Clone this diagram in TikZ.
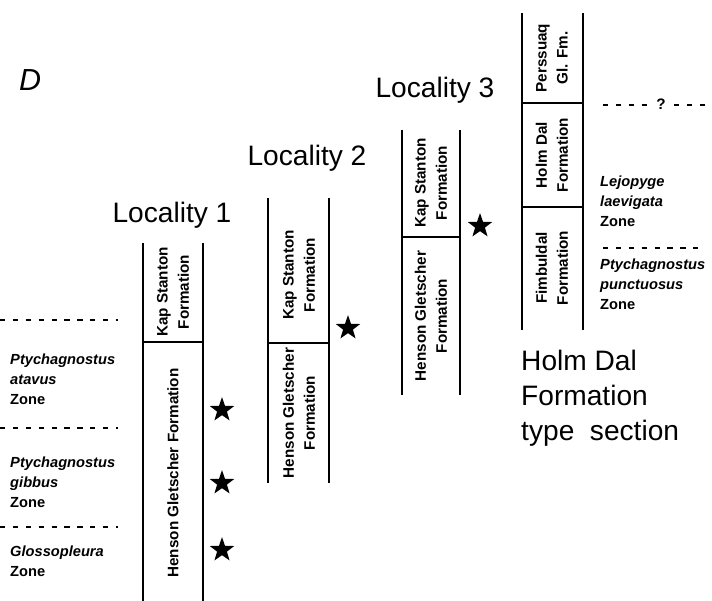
\documentclass[tikz,border=0pt]{standalone}
\usepackage{fontspec}
\setmainfont{Liberation Sans}
\usetikzlibrary{shapes.geometric,positioning}

\tikzset{
    unit/.style={rotate=90, align=center, inner sep=0pt, font=\fontsize{13}{18}\selectfont\bfseries},
    zone/.style={anchor=west, align=left, inner sep=0pt, font=\fontsize{12.5}{17}\selectfont\bfseries},
    title/.style={inner sep=0pt, font=\fontsize{24}{30}\selectfont},
    fossil/.style={star, star points=5, star point ratio=2.5, fill=black, minimum size=22pt, inner sep=0pt},
    col/.style={line width=1.5pt},
    bound/.style={line width=1.3pt, dash pattern=on 4.5pt off 6.5pt}
}

\begin{document}
\begin{tikzpicture}[x=0.03cm, y=-0.03cm]
    \useasboundingbox (0,0) rectangle (712,601);

    \node[inner sep=0pt, font=\fontsize{26}{30}\selectfont\itshape] (panel) at (30,80) {D};

    % Locality 1
    \node[title, anchor=base] (loc1) at (172,223) {Locality 1};
    \draw[col] (143,243) -- (143,601) (203,243) -- (203,601) (143,342) -- (203,342);
    \node[unit] (ks1) at (173,292) {Kap Stanton\\Formation};
    \node[unit] (hg1) at (173,473) {Henson Gletscher Formation};
    \foreach \y in {410,483,550}
        \node[fossil] (st\y) at (222,\y) {};

    % zones at left
    \draw[bound] (0,320) -- (118,320) (0,428) -- (118,428) (0,527) -- (118,527);
    \node[zone] (atavus) at (10,379) {\textit{Ptychagnostus}\\\textit{atavus}\\Zone};
    \node[zone] (gibbus) at (10,482) {\textit{Ptychagnostus}\\\textit{gibbus}\\Zone};
    \node[zone] (glosso) at (10,561) {\textit{Glossopleura}\\Zone};

    % Locality 2
    \node[title, anchor=base] (loc2) at (307,166) {Locality 2};
    \draw[col] (268,198) -- (268,483) (329,198) -- (329,483) (268,343) -- (329,343);
    \node[unit] (ks2) at (299,275) {Kap Stanton\\Formation};
    \node[unit] (hg2) at (299,413) {Henson Gletscher\\Formation};
    \node[fossil] (st2) at (348,328) {};

    % Locality 3
    \node[title, anchor=base] (loc3) at (435,98) {Locality 3};
    \draw[col] (402,130) -- (402,395) (460,130) -- (460,395) (402,237) -- (460,237);
    \node[unit] (ks3) at (431,183) {Kap Stanton\\Formation};
    \node[unit] (hg3) at (431,316) {Henson Gletscher\\Formation};
    \node[fossil] (st3) at (480,226) {};

    % Holm Dal type section
    \draw[col] (522,13) -- (522,330) (583,13) -- (583,330) (522,103) -- (583,103) (522,207) -- (583,207);
    \node[unit] (pgf) at (552,58) {Perssuaq\\Gl. Fm.};
    \node[unit] (hd) at (552,155) {Holm Dal\\Formation};
    \node[unit] (fb) at (552,268) {Fimbuldal\\Formation};

    \node[inner sep=3pt, font=\fontsize{13}{17}\selectfont\bfseries] (q) at (661,104) {?};
    \draw[bound] (603,105) -- (q.west |- 0,105);
    \draw[bound] ([xshift=4pt]q.east |- 0,105) -- (706,105);
    \draw[bound] (603,248) -- (706,248);
    \node[zone] (laev) at (600,201) {\textit{Lejopyge}\\\textit{laevigata}\\Zone};
    \node[zone] (punct) at (600,284) {\textit{Ptychagnostus}\\\textit{punctuosus}\\Zone};

    \node[title, anchor=north west, align=left] (type) at (521,350) {Holm Dal\\Formation\\type\ \ section};
\end{tikzpicture}
\end{document}
